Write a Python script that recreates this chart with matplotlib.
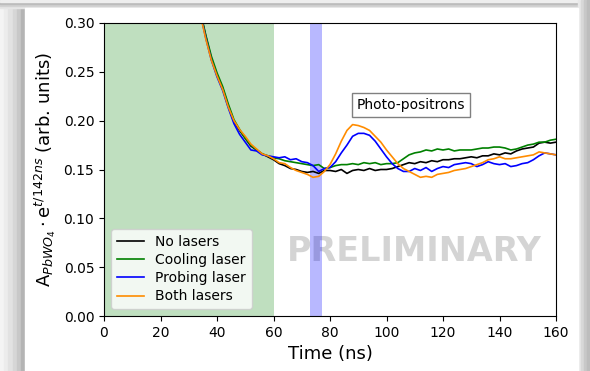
import matplotlib
matplotlib.use("Agg")
import matplotlib.pyplot as plt
import numpy as np
from matplotlib.patches import Rectangle

# time grid (ns)
t = np.arange(34, 161, 2)

# common decay part, 34..58 ns
decay = [0.312, 0.287, 0.264, 0.247, 0.233, 0.215, 0.199, 0.190, 0.182, 0.174, 0.170, 0.166, 0.163]

no_lasers = decay + [
    0.160, 0.156, 0.154, 0.151, 0.150, 0.148, 0.147, 0.148, 0.146, 0.149,
    0.149, 0.148, 0.150, 0.146, 0.149, 0.150, 0.149, 0.151, 0.149, 0.150,
    0.150, 0.151, 0.153, 0.155, 0.157, 0.156, 0.158, 0.157, 0.159, 0.158,
    0.160, 0.160, 0.161, 0.161, 0.162, 0.163, 0.162, 0.164, 0.164, 0.166,
    0.165, 0.167, 0.166, 0.169, 0.171, 0.172, 0.173, 0.177, 0.178, 0.177,
    0.178]
cooling = [0.313, 0.288, 0.266, 0.249, 0.235, 0.217, 0.201, 0.191, 0.182, 0.175, 0.170, 0.166, 0.164] + [
    0.162, 0.161, 0.159, 0.158, 0.157, 0.156, 0.155, 0.154, 0.155, 0.151,
    0.152, 0.154, 0.155, 0.155, 0.156, 0.155, 0.157, 0.156, 0.157, 0.155,
    0.156, 0.156, 0.157, 0.161, 0.165, 0.167, 0.168, 0.170, 0.169, 0.171,
    0.170, 0.171, 0.169, 0.170, 0.170, 0.170, 0.171, 0.172, 0.172, 0.173,
    0.173, 0.172, 0.170, 0.171, 0.173, 0.175, 0.176, 0.178, 0.178, 0.180,
    0.181]
probing = [0.311, 0.285, 0.262, 0.245, 0.231, 0.213, 0.197, 0.186, 0.178, 0.170, 0.169, 0.165, 0.164] + [
    0.163, 0.162, 0.163, 0.160, 0.161, 0.158, 0.157, 0.154, 0.148, 0.151,
    0.152, 0.158, 0.167, 0.175, 0.184, 0.187, 0.187, 0.185, 0.179, 0.171,
    0.163, 0.156, 0.151, 0.148, 0.148, 0.151, 0.149, 0.152, 0.148, 0.151,
    0.153, 0.152, 0.155, 0.156, 0.157, 0.156, 0.153, 0.155, 0.158, 0.156,
    0.155, 0.156, 0.153, 0.154, 0.156, 0.157, 0.160, 0.164, 0.167, 0.166,
    0.165]
both = [0.310, 0.284, 0.262, 0.246, 0.232, 0.214, 0.200, 0.191, 0.184, 0.176, 0.171, 0.166, 0.164] + [
    0.161, 0.157, 0.156, 0.152, 0.149, 0.147, 0.145, 0.142, 0.143, 0.148,
    0.155, 0.166, 0.179, 0.190, 0.196, 0.195, 0.193, 0.190, 0.184, 0.178,
    0.170, 0.163, 0.156, 0.151, 0.148, 0.145, 0.142, 0.143, 0.142, 0.145,
    0.146, 0.147, 0.149, 0.150, 0.151, 0.153, 0.155, 0.157, 0.160, 0.161,
    0.163, 0.161, 0.161, 0.162, 0.163, 0.164, 0.165, 0.168, 0.167, 0.166,
    0.165]

labels = ["No lasers", "Cooling laser", "Probing laser", "Both lasers"]
colors = ["black", "green", "blue", "darkorange"]
series = [no_lasers, cooling, probing, both]

fig = plt.figure(figsize=(5.9, 3.71), dpi=100)

# gray screenshot frame around the white panel
W, H = 590.0, 371.0
left_steps = ["#f4f4f4", "#ececec", "#e2e2e2", "#d6d6d6", "#c8c8c8", "#b4b4b4"]
for i, c in enumerate(left_steps):
    x0 = i * 25 / len(left_steps)
    fig.add_artist(Rectangle((x0 / W, 0), (25 - x0) / W, 1, color=c,
                             transform=fig.transFigure, zorder=-10))
top_steps = ["#e6e6e6", "#d2d2d2", "#bcbcbc", "#b0b0b0"]
for i, c in enumerate(top_steps):
    y0 = i * 8 / len(top_steps)
    fig.add_artist(Rectangle((0, (H - 8 + y0) / H), 1, (8 - y0) / H, color=c,
                             transform=fig.transFigure, zorder=-9))
fig.add_artist(Rectangle((0, 1 - 2 / H), 1, 2 / H, color="#eeeeee",
                         transform=fig.transFigure, zorder=-9))
right_steps = ["#e8e8e8", "#d8d8d8", "#c8c8c8", "#bdbdbd"]
for i, c in enumerate(right_steps):
    w = 12 - i * 12 / len(right_steps)
    fig.add_artist(Rectangle(((W - w) / W, 0), w / W, 1, color=c,
                             transform=fig.transFigure, zorder=-8))
fig.add_artist(Rectangle((25 / W, 0), (578 - 25) / W, (H - 8) / H, color="white",
                         transform=fig.transFigure, zorder=-7))

ax = fig.add_axes([104 / W, 1 - 316 / H, (556 - 104) / W, (316 - 23) / H])
ax.axvspan(0, 60, color="green", alpha=0.25, lw=0)
ax.axvspan(73, 77, color="blue", alpha=0.28, lw=0)

for y, lab, c in zip(series, labels, colors):
    ax.plot(t, y, color=c, lw=1.2, label=lab)

ax.set_xlim(0, 160)
ax.set_ylim(0, 0.30)
ax.set_xticks([0, 20, 40, 60, 80, 100, 120, 140, 160])
ax.set_yticks([0.0, 0.05, 0.10, 0.15, 0.20, 0.25, 0.30])
ax.set_yticklabels(["0.00", "0.05", "0.10", "0.15", "0.20", "0.25", "0.30"])
ax.tick_params(labelsize=10)
ax.set_xlabel("Time (ns)", fontsize=13)
ax.set_ylabel(r"A$_{PbWO_4}\cdot$e$^{t/142ns}$ (arb. units)", fontsize=13)

ax.legend(loc="lower left", fontsize=10, handlelength=2.0, labelspacing=0.3,
          borderpad=0.4, framealpha=0.8)

ax.text(108.7, 0.216, "Photo-positrons", fontsize=10, ha="center", va="center",
        bbox=dict(boxstyle="square,pad=0.35", fc="white", ec="gray"))
ax.text(110, 0.066, "PRELIMINARY", fontsize=24, fontweight="bold", color="#d4d4d4",
        ha="center", va="center", zorder=0)

fig.savefig("out.png", dpi=100)
